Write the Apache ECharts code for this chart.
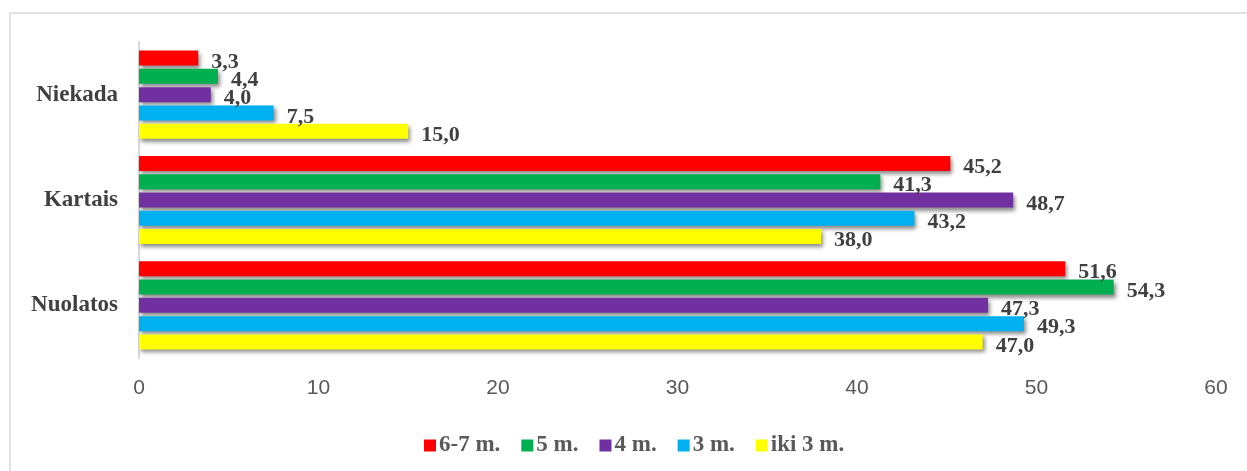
<!DOCTYPE html>
<html>
<head>
<meta charset="utf-8">
<script src="https://cdn.jsdelivr.net/npm/echarts@6/dist/echarts.min.js"></script>
<style>
  html, body { margin: 0; padding: 0; background: #fff; }
  #chart { width: 1247px; height: 471px; }
</style>
</head>
<body>
<div id="chart"></div>
<script>
// kategorijos (iš apačios į viršų)
const categories = ['Nuolatos', 'Kartais', 'Niekada']
// serijų pavadinimai
const seriesNames = ['6-7 m.', '5 m.', '4 m.', '3 m.', 'iki 3 m.']
const seriesColors = ['#FF0000', '#00B050', '#7030A0', '#00B0F0', '#FFFF00']
// reikšmės: Nuolatos, Kartais, Niekada
const m67 = [51.6, 45.2, 3.3]
const m5 = [54.3, 41.3, 4.4]
const m4 = [47.3, 48.7, 4.0]
const m3 = [49.3, 43.2, 7.5]
const iki3 = [47.0, 38.0, 15.0]
const values = [m67, m5, m4, m3, iki3]
// x ašies žymos
const xTicks = [0, 10, 20, 30, 40, 50, 60]

const chart = echarts.init(document.getElementById('chart'))

const serif = '"Liberation Serif", "Times New Roman", serif'

const option = {
  animation: false,
  graphic: [
    {
      type: 'rect',
      z: -10,
      shape: { x: 10, y: 13, width: 1300, height: 500 },
      style: { fill: 'none', stroke: '#d9d9d9', lineWidth: 1.5 },
    },
  ],
  legend: {
    data: seriesNames,
    left: 419,
    top: 429,
    itemWidth: 12,
    itemHeight: 12,
    itemGap: 21,
    icon: 'rect',
    textStyle: {
      fontFamily: serif,
      fontWeight: 'bold',
      fontSize: 23,
      color: '#595959',
      padding: [0, 0, 0, -2],
    },
  },
  grid: {
    left: 139,
    right: 31,
    top: 42,
    bottom: 113,
  },
  xAxis: {
    type: 'value',
    min: xTicks[0],
    max: xTicks[xTicks.length - 1],
    interval: 10,
    axisLine: { show: false },
    axisTick: { show: false },
    splitLine: { show: false },
    axisLabel: {
      margin: 20,
      fontFamily: '"Liberation Sans", Arial, sans-serif',
      fontSize: 21,
      color: '#595959',
    },
  },
  yAxis: {
    type: 'category',
    data: categories,
    axisLine: { show: true, lineStyle: { color: '#d9d9d9', width: 2 } },
    axisTick: { show: false },
    axisLabel: {
      margin: 21,
      fontFamily: serif,
      fontWeight: 'bold',
      fontSize: 23,
      color: '#404040',
    },
  },
  series: seriesNames.map((name, i) => ({
    name: name,
    type: 'bar',
    data: values[i],
    barWidth: 15,
    barGap: '22%',
    itemStyle: {
      color: seriesColors[i],
      shadowColor: 'rgba(0, 0, 0, 0.45)',
      shadowBlur: 4,
      shadowOffsetX: 2,
      shadowOffsetY: 3,
    },
    label: {
      show: true,
      position: 'right',
      distance: 13,
      offset: [0, 4],
      fontFamily: serif,
      fontWeight: 'bold',
      fontSize: 22,
      color: '#404040',
      formatter: (p) => p.value.toFixed(1).replace('.', ','),
    },
  })),
}

chart.setOption(option)
</script>
</body>
</html>
